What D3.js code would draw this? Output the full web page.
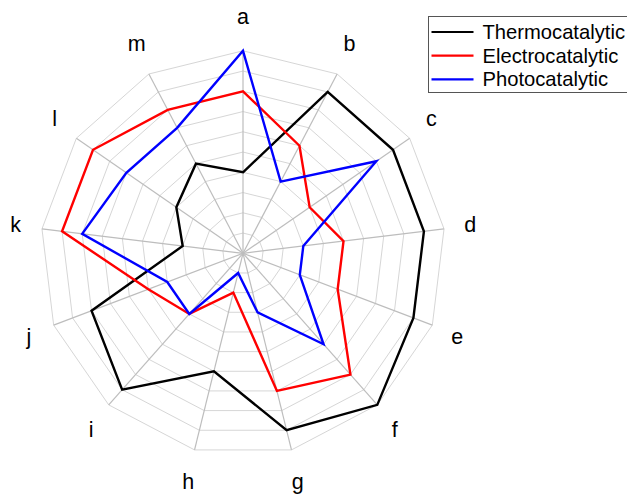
<!DOCTYPE html>
<html>
<head>
<meta charset="utf-8">
<script src="https://cdn.jsdelivr.net/npm/d3@7"></script>
<style>
  html, body { margin: 0; padding: 0; background: #fff; }
  svg { display: block; }
  text { font-family: "Liberation Sans", Arial, sans-serif; fill: #000; }
</style>
</head>
<body>
<svg id="chart" width="627" height="495"></svg>
<script>
// Axis categories and the score of each catalytic route on every axis (0-10)
const categories = ["a", "b", "c", "d", "e", "f", "g", "h", "i", "j", "k", "l", "m"];
const thermocatalytic = [4, 9, 9, 9, 9, 10, 9, 6, 9, 8, 3, 4, 5];
const electrocatalytic = [8, 6, 4, 5, 5, 8, 7, 2, 4, 5, 9, 9, 8];
const photocatalytic = [10, 4, 8, 3, 3, 6, 3, 1, 4, 4, 8, 7, 7];
const seriesNames = ["Thermocatalytic", "Electrocatalytic", "Photocatalytic"];
const seriesColors = ["#000000", "#ff0000", "#0000ff"];
const levels = d3.range(1, 11); // ring values 1..10

const series = [thermocatalytic, electrocatalytic, photocatalytic];

const svg = d3.select("#chart");
const cx = 243, cy = 253.3, R = 202.5;

const angle = d3.scaleLinear()
  .domain([0, categories.length])
  .range([0, 2 * Math.PI]);
const r = d3.scaleLinear().domain([0, 10]).range([0, R]);

const g = svg.append("g").attr("transform", `translate(${cx},${cy})`);

const radial = d3.lineRadial()
  .angle((d, i) => angle(i))
  .radius(d => r(d))
  .curve(d3.curveLinearClosed);

// concentric polygon rings
g.append("g").selectAll("path")
  .data(levels)
  .join("path")
  .attr("d", v => radial(categories.map(() => v)))
  .attr("fill", "none")
  .attr("stroke", "#d6d6d6")
  .attr("stroke-width", 1);

// spokes
const pt = (i, v) => {
  const a = angle(i);
  return [r(v) * Math.sin(a), -r(v) * Math.cos(a)];
};
g.append("g").selectAll("line")
  .data(categories)
  .join("line")
  .attr("x1", 0).attr("y1", 0)
  .attr("x2", (d, i) => pt(i, 10)[0])
  .attr("y2", (d, i) => pt(i, 10)[1])
  .attr("stroke", "#bdbdbd")
  .attr("stroke-width", 1.2);

// category labels, placed just outside the outer ring
g.append("g").selectAll("text")
  .data(categories)
  .join("text")
  .attr("x", (d, i) => (229 / R) * pt(i, 10)[0])
  .attr("y", (d, i) => (236 / R) * pt(i, 10)[1])
  .attr("text-anchor", "middle")
  .attr("dominant-baseline", "central")
  .attr("font-size", 21.5)
  .text(d => d);

// data polygons
g.append("g").selectAll("path")
  .data(series)
  .join("path")
  .attr("d", d => radial(d))
  .attr("fill", "none")
  .attr("stroke", (d, i) => seriesColors[i])
  .attr("stroke-width", 2.4)
  .attr("stroke-linejoin", "miter");

// legend
const legend = svg.append("g").attr("transform", "translate(428.5,16.5)");
legend.append("rect")
  .attr("width", 220).attr("height", 76)
  .attr("fill", "#fff")
  .attr("stroke", "#555")
  .attr("stroke-width", 1);
const rows = legend.selectAll("g.row")
  .data(seriesNames)
  .join("g")
  .attr("class", "row")
  .attr("transform", (d, i) => `translate(0,${15.5 + i * 23.7})`);
rows.append("line")
  .attr("x1", 3).attr("x2", 45)
  .attr("stroke", (d, i) => seriesColors[i])
  .attr("stroke-width", 2.2);
rows.append("text")
  .attr("x", 54)
  .attr("dominant-baseline", "central")
  .attr("font-size", 20.2)
  .text(d => d);
</script>
</body>
</html>
